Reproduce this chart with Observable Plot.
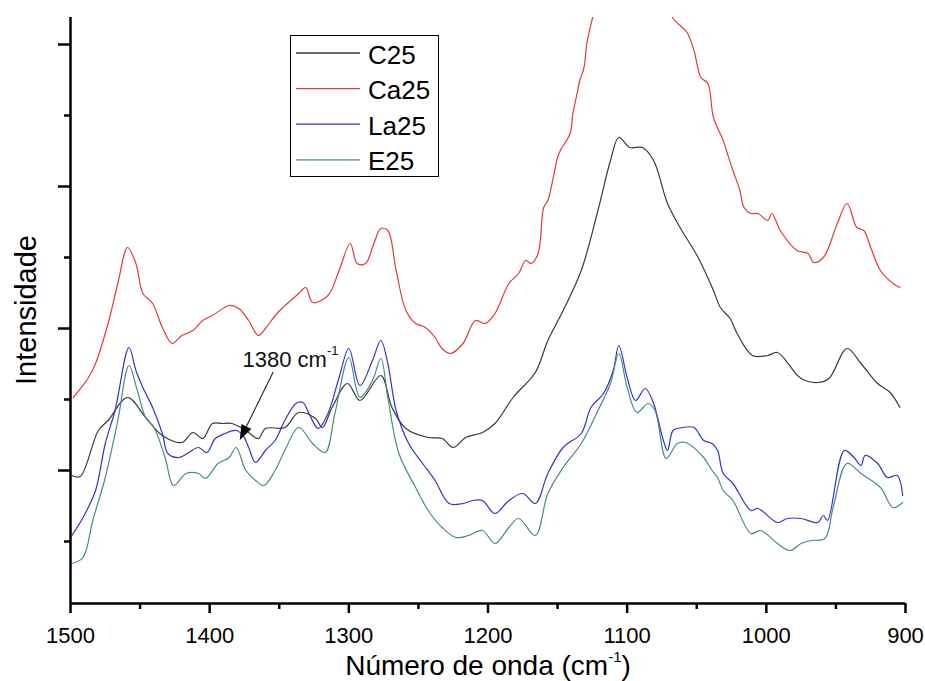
<!DOCTYPE html>
<html><head><meta charset="utf-8">
<script src="https://cdn.jsdelivr.net/npm/d3@7"></script>
<script src="https://cdn.jsdelivr.net/npm/@observablehq/plot@0.6"></script>
<style>body{margin:0;background:#fff}#chart svg{display:block}</style>
</head><body><div id="chart"></div>
<script>
// ---- data (wavenumber cm^-1, intensity a.u.) ----
const seriesNames = ["C25", "Ca25", "La25", "E25"];
const seriesColors = ["#3a3a3a", "#e23a3a", "#3434cc", "#468c86"];

const c25Wn = [1499,1493,1480,1473,1459,1446,1434,1420,1412,1405,1398,1391,1384,1374,1365,1360,1346,1336,1324,1319,1312,1301,1292,1277,1269,1259,1243,1233,1225,1216,1204,1195,1182,1166,1157,1146,1133,1121,1112,1106,1098,1089,1081,1071,1062,1049,1038,1033,1026,1021,1010,999,992,975,963,955,942,932,920,911,904];
const c25I  = [137,136,182,192,215,195,177,170,180,174,189,189,189,182,174,184,185,200,194,185,205,229,212,237,205,184,175,174,165,175,180,189,215,240,272,302,342,402,452,475,465,465,452,409,385,355,322,305,294,279,257,257,260,234,230,234,264,249,229,220,205];

const ca25Wn = [1498,1487,1482,1473,1466,1459,1453,1448,1441,1434,1427,1420,1412,1405,1398,1386,1379,1372,1365,1360,1351,1336,1331,1326,1315,1307,1299,1294,1288,1282,1277,1272,1266,1259,1252,1245,1238,1233,1227,1218,1209,1202,1195,1185,1178,1173,1169,1164,1160,1157,1150,1148,1141,1139,1136,1134,1131,1129,1125,1115,1106,1097,1089,1080,1072,1067,1057,1052,1047,1042,1038,1031,1028,1024,1019,1016,1011,1006,999,996,990,978,970,966,959,949,942,935,930,925,918,909,904];
const ca25I  = [215,235,249,289,329,365,349,319,309,285,269,277,282,292,297,307,304,292,277,284,300,319,325,310,317,342,369,349,349,369,384,382,342,302,289,285,275,264,259,269,292,289,299,329,339,352,349,359,405,412,455,462,479,499,519,532,545,569,594,650,680,672,668,645,612,594,580,562,535,529,495,472,459,442,422,405,399,399,392,399,382,362,359,350,355,389,409,385,382,365,342,329,325];

const la25Wn = [1499,1491,1482,1475,1468,1458,1453,1448,1441,1434,1430,1422,1415,1408,1402,1396,1389,1381,1376,1372,1367,1360,1353,1346,1338,1333,1328,1322,1315,1307,1300,1292,1283,1277,1272,1266,1257,1247,1238,1228,1218,1211,1204,1195,1185,1175,1166,1157,1146,1133,1126,1117,1110,1106,1100,1094,1087,1081,1074,1071,1067,1060,1052,1045,1039,1035,1031,1024,1011,1006,992,985,975,963,959,956,944,937,932,929,920,913,906,902];
const la25I  = [77,95,122,169,202,265,242,225,205,179,159,155,160,165,160,174,179,182,177,165,150,162,172,192,209,210,197,184,199,235,264,227,252,272,249,202,169,149,132,109,109,112,112,99,112,119,109,139,165,179,205,219,242,267,235,212,224,209,172,162,182,185,185,172,169,162,139,129,102,104,90,94,94,90,97,92,162,155,147,157,149,135,137,117];

const e25Wn = [1499,1491,1484,1475,1466,1458,1452,1446,1440,1432,1426,1417,1408,1403,1394,1386,1381,1374,1367,1361,1353,1346,1336,1326,1317,1310,1300,1292,1283,1277,1272,1264,1252,1243,1233,1223,1214,1204,1195,1185,1178,1166,1157,1146,1133,1121,1112,1106,1100,1093,1085,1080,1072,1064,1058,1045,1039,1035,1031,1024,1011,1004,992,983,975,968,958,952,942,932,918,909,902];
const e25I  = [49,55,92,135,192,247,222,195,185,155,127,139,139,134,149,155,165,142,132,127,142,162,185,169,160,199,255,215,232,254,215,159,125,102,85,75,77,82,69,85,94,77,119,145,169,202,229,259,225,200,209,202,154,169,170,155,142,135,122,112,79,82,69,62,69,72,74,105,149,139,125,105,110];

const xMajorTicks = [1500, 1400, 1300, 1200, 1100, 1000, 900];
const xMinorTicks = [1450, 1350, 1250, 1150, 1050, 950];
const yMajorTicks = [142, 284, 426, 568];
const yMinorTicks = [71, 213, 355, 497];

const annotLabel = "1380 cm";
const annotSup = "-1";
const annotText = [1376, 245];      // text anchor (wn, I)
const annotFrom = [1354, 240];      // arrow start
const annotTo = [1378, 172];        // arrow tip

const xTitle = "Número de onda (cm";
const yTitle = "Intensidade";

// ---- build table ----
const seriesData = [[c25Wn, c25I], [ca25Wn, ca25I], [la25Wn, la25I], [e25Wn, e25I]];
const rows = [];
seriesData.forEach(([wn, I], k) => {
  const n = Math.min(wn.length, I.length);
  for (let i = 0; i < n; i++) rows.push({series: seriesNames[k], wn: wn[i], I: I[i]});
});

const FONT = "'Liberation Sans', Arial, sans-serif";

const plot = Plot.plot({
  width: 925, height: 681,
  marginLeft: 70, marginRight: 20, marginTop: 17, marginBottom: 78,
  style: {fontFamily: FONT, background: "#fff", color: "#000"},
  x: {domain: [1500, 900], label: null},
  y: {domain: [9, 595], label: null},
  color: {domain: seriesNames, range: seriesColors},
  marks: [
    Plot.line(rows, {x: "wn", y: "I", z: "series", stroke: "series", strokeWidth: 1.2, curve: "catmull-rom", clip: true}),
    Plot.axisX(xMajorTicks, {tickSize: 10, tickPadding: 14, strokeWidth: 2.5, fontSize: 22, tickFormat: d => String(d), label: null}),
    Plot.axisX(xMinorTicks, {tickSize: 6, strokeWidth: 2.5, tickFormat: () => "", label: null}),
    Plot.axisY(yMajorTicks, {tickSize: 12, strokeWidth: 2.5, tickFormat: () => "", label: null}),
    Plot.axisY(yMinorTicks, {tickSize: 6, strokeWidth: 2.5, tickFormat: () => "", label: null}),
    Plot.ruleX([1500], {strokeWidth: 2.5}),
    Plot.ruleY([9], {strokeWidth: 2.5})
  ]
});
document.getElementById("chart").appendChild(plot);

const svg = d3.select(plot);
const sx = v => plot.scale("x").apply(v);
const sy = v => plot.scale("y").apply(v);

// axis titles
const xt = svg.append("text").attr("x", 488).attr("y", 675).attr("text-anchor", "middle")
  .attr("font-family", FONT).attr("font-size", 28).attr("fill", "#000");
xt.append("tspan").text(xTitle);
xt.append("tspan").attr("font-size", 15).attr("dy", -13).text("-1");
xt.append("tspan").attr("dy", 13).text(")");

svg.append("text").attr("transform", "translate(36,310) rotate(-90)").attr("text-anchor", "middle")
  .attr("font-family", FONT).attr("font-size", 29).attr("fill", "#000").text(yTitle);

// annotation
const at = svg.append("text").attr("x", sx(annotText[0])).attr("y", sy(annotText[1]))
  .attr("text-anchor", "start")
  .attr("font-family", FONT).attr("font-size", 22).attr("fill", "#111");
at.append("tspan").text(annotLabel);
at.append("tspan").attr("font-size", 13).attr("dy", -12).text(annotSup);

const p0 = [sx(annotFrom[0]), sy(annotFrom[1])], p1 = [sx(annotTo[0]), sy(annotTo[1])];
const dx = p1[0] - p0[0], dy = p1[1] - p0[1], L = Math.hypot(dx, dy);
const ux = dx / L, uy = dy / L, hl = 15, hw = 5.5;
const base = [p1[0] - ux * hl, p1[1] - uy * hl];
svg.append("line").attr("x1", p0[0]).attr("y1", p0[1]).attr("x2", base[0]).attr("y2", base[1])
  .attr("stroke", "#222").attr("stroke-width", 1.1);
svg.append("polygon").attr("fill", "#000").attr("points", [
  p1, [base[0] - uy * hw, base[1] + ux * hw], [base[0] + uy * hw, base[1] - ux * hw]
].map(p => p.join(",")).join(" "));

// legend
const lg = svg.append("g").attr("text-anchor", "start");
lg.append("rect").attr("x", 290.5).attr("y", 35.5).attr("width", 148).attr("height", 141)
  .attr("fill", "#fff").attr("stroke", "#000").attr("stroke-width", 1);
seriesNames.forEach((name, i) => {
  const y = 53 + i * 35.6;
  lg.append("line").attr("x1", 296).attr("x2", 360).attr("y1", y).attr("y2", y)
    .attr("stroke", seriesColors[i]).attr("stroke-width", 1.3);
  lg.append("text").attr("x", 368).attr("y", y + 10.5).attr("text-anchor", "start").attr("font-family", FONT)
    .attr("font-size", 26).attr("fill", "#000").text(name);
});
</script>
</body></html>
